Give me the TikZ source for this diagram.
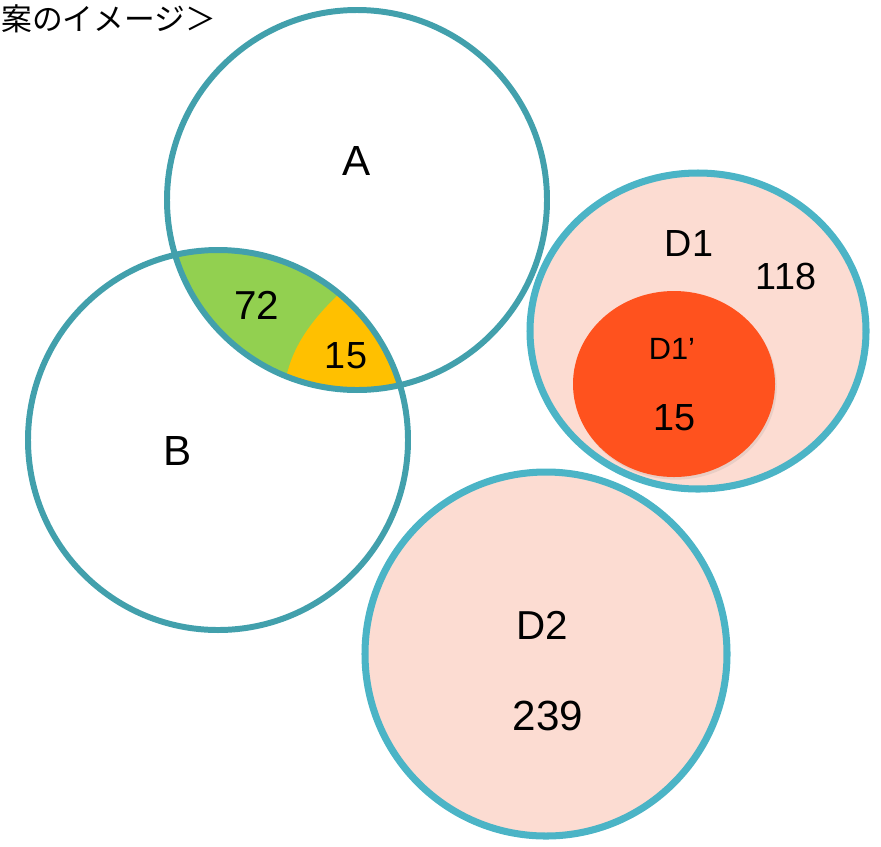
\documentclass[tikz,border=0pt]{standalone}
\usepackage{fontspec}
\setmainfont{Liberation Sans}
\newfontfamily\jpfont{Noto Sans CJK JP}
\usetikzlibrary{shadows}

\definecolor{Teal}{RGB}{66,160,172}
\definecolor{Aqua}{RGB}{75,180,198}
\definecolor{Leaf}{RGB}{146,208,80}
\definecolor{Amber}{RGB}{255,192,0}
\definecolor{Blush}{RGB}{252,220,210}
\definecolor{Flame}{RGB}{255,82,30}

\begin{document}
\begin{tikzpicture}[
  x=0.02cm, y=-0.02cm,
  every node/.style={inner sep=0pt, font=\fontsize{24}{28}\selectfont},
  setline/.style={draw=Teal, line width=3.4pt},
  groupline/.style={draw=Aqua, line width=4pt, fill=Blush,
    drop shadow={shadow xshift=1.5pt, shadow yshift=-1.5pt, opacity=0.15}},
  mid/.style={font=\fontsize{21.5}{26}\selectfont},
  small/.style={font=\fontsize{17.5}{21}\selectfont}
]

% Picture frame (pixel units, y downwards)
\useasboundingbox (0,0) rectangle (881,846);

% Set centres and radii
\def\ax{357} \def\ay{200}  % set A
\def\bx{218} \def\by{440}  % set B
\def\sr{190}               % radius of A and B

% ============================================================
% A and B: overlap split in two parts
% ============================================================
\begin{scope}
  \clip (\ax,\ay) circle[radius=\sr];
  \clip (\bx,\by) circle[radius=\sr];
  \fill[Leaf] (0,0) rectangle (881,846);
  % right part of the overlap
  \fill[Amber] (348,286) .. controls (318,312) and (290,345) .. (285,385)
    -- (450,420) -- (450,250) -- cycle;
\end{scope}

\draw[setline] (\ax,\ay) circle[radius=\sr];
\draw[setline] (\bx,\by) circle[radius=\sr];

\node (lblA) at (357,161) {A};
\node (lblB) at (178,451) {B};
\node[font=\fontsize{23}{28}\selectfont] (nAB) at (257,305) {72};
\node[mid] (nABd) at (346,356) {15};

% ============================================================
% D1 with D1' inside
% ============================================================
\path[groupline] (698,331) ellipse[x radius=168, y radius=158];
\fill[Flame, drop shadow={shadow xshift=1pt, shadow yshift=-1.5pt, opacity=0.15}]
  (674,384) ellipse[x radius=101, y radius=93];

\node[mid]   (lblD1)  at (689,243) {D1};
\node[mid]   (nD1)    at (786,276) {118};
\node[small] (lblD1s) at (672,349) {D1’};
\node[mid]   (nD1s)   at (674,418) {15};

% ============================================================
% D2
% ============================================================
\path[groupline] (546,654) ellipse[x radius=181, y radius=182];

\node[font=\fontsize{23}{28}\selectfont] (lblD2) at (542,625) {D2};
\node (nD2) at (548,716) {239};

% Caption in the top left corner
\node[anchor=west, font=\jpfont\fontsize{17.5}{21}\selectfont] (title)
  at (1,19) {案のイメージ＞};

\end{tikzpicture}
\end{document}
